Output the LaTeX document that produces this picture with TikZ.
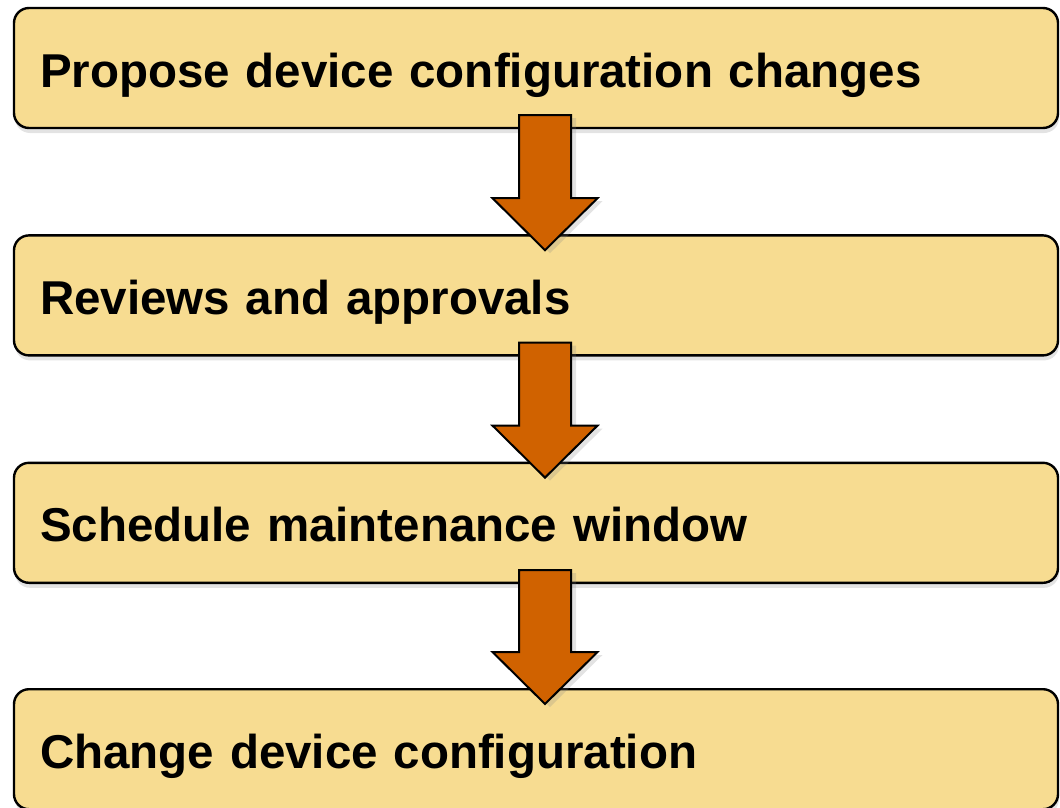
\documentclass[tikz,border=0pt]{standalone}
\usepackage{fontspec}
\setmainfont{Liberation Sans}
\usetikzlibrary{calc,positioning,shadows}

\definecolor{stepfill}{RGB}{247,220,145}
\definecolor{arrowfill}{RGB}{208,98,0}

\tikzset{
  stepbox/.style={draw=black, line width=2.4pt, fill=stepfill, rounded corners=15pt,
    minimum width=1044pt, minimum height=120pt, text width=992pt, inner xsep=26pt,
    text height=38pt, text depth=0pt,
    align=left, font=\fontsize{47.5}{57}\selectfont\bfseries,
    drop shadow={shadow xshift=1pt, shadow yshift=-5pt, opacity=0.22}},
  flowarrow/.style={draw=black, line width=2pt, line join=miter, fill=arrowfill,
    drop shadow={shadow xshift=5pt, shadow yshift=-3pt, opacity=0.22}}
}

% block arrow from the bottom of #1 into the top of #2
\newcommand{\stepdown}[2]{%
  \draw[flowarrow] ($(#1.south -| ax)+(-26,-14)$) -- ($(#1.south -| ax)+(26,-14)$)
    -- ($(#2.north -| ax)+(26,-36)$) -- ($(#2.north -| ax)+(52.5,-36)$)
    -- ($(#2.north -| ax)+(0,16)$) -- ($(#2.north -| ax)+(-52.5,-36)$)
    -- ($(#2.north -| ax)+(-26,-36)$) -- cycle;
}

\begin{document}
\begin{tikzpicture}[x=1pt, y=-1pt]
  \useasboundingbox (0,0) rectangle (1060,808);
  \coordinate (ax) at (545,0);
  % --- steps ---
  \node[stepbox] (b1) at (536,68) {Propose device configuration changes};
  \node[stepbox, below=105pt of b1] (b2) {Reviews and approvals};
  \node[stepbox, below=105pt of b2] (b3) {Schedule maintenance window};
  \node[stepbox, below=104pt of b3] (b4) {Change device configuration};
  % --- arrows ---
  \stepdown{b1}{b2}
  \stepdown{b2}{b3}
  \stepdown{b3}{b4}
\end{tikzpicture}
\end{document}
